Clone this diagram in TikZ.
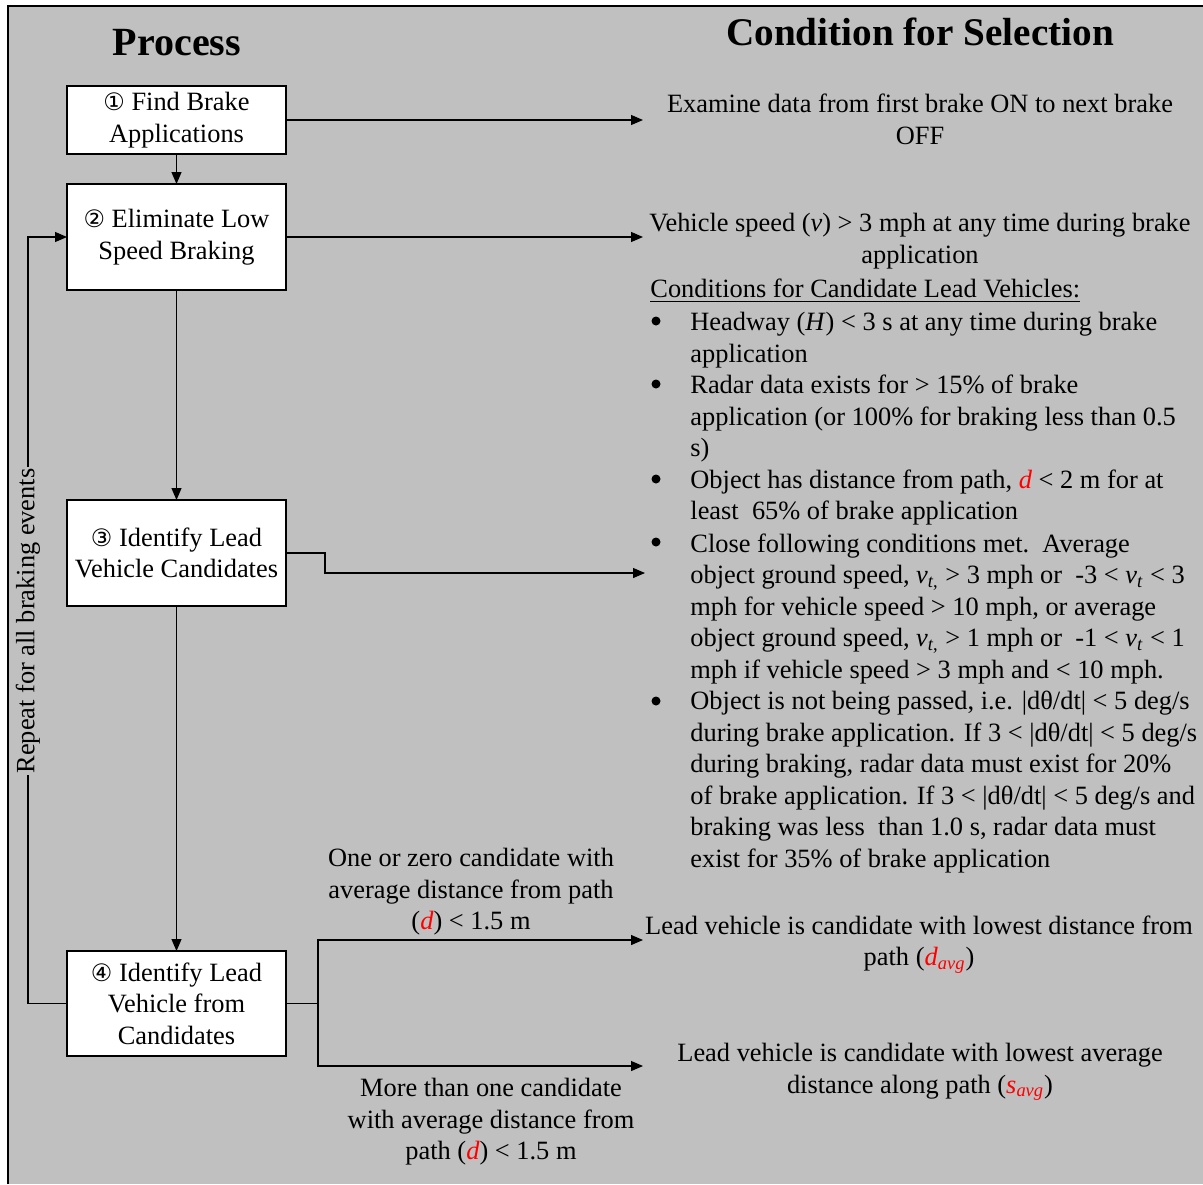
\documentclass[tikz,border=0pt]{standalone}
\usepackage{fontspec}
\setmainfont{Liberation Serif}
\newfontfamily\circfont{DejaVu Sans}
\usepackage{xcolor}
\usetikzlibrary{positioning}
\usetikzlibrary{arrows.meta}
\definecolor{panel}{RGB}{192,192,192}
\newcommand{\cnum}[1]{\smash{\circfont\fontsize{12}{12}\selectfont #1}}
\newcommand{\rd}[1]{\textcolor{red}{\textit{#1}}}
\newcommand{\rdsub}[2]{\textcolor{red}{\textit{#1}\textsubscript{\textit{#2}}}}
\newcommand{\vt}{\textit{v}\textsubscript{\textit{t}}}

\begin{document}
\begin{tikzpicture}[
        x=0.5pt, y=-0.5pt,
        align=center,
        font=\fontsize{13.2}{15.75}\selectfont,
        proc/.style = {draw, fill=white, line width=0.75pt, outer sep=0pt, minimum width=109.5pt, minimum height=53pt, inner sep=2pt},
        cond/.style = {anchor=north, inner sep=0pt},
        item/.style = {anchor=north west, inner sep=0pt, align=left},
        dot/.style = {circle, fill, inner sep=0pt, minimum size=4.5pt},
        title/.style = {font=\fontsize{20}{24}\selectfont\bfseries, anchor=base},
        arr/.style = {-{Triangle[length=6pt,width=5pt]}, line width=0.6pt}
    ]

        \useasboundingbox (0,0) rectangle (1203,1184);
        \fill[panel] (8,6) rectangle (1203,1184);
        \draw[line width=1pt] (8,1184) -- (8,6) -- (1203,6);

        \node[title] (proc) at (177,55) {Process};
        \node[title, font=\fontsize{19.6}{24}\selectfont\bfseries] (sel) at (920,45) {Condition for Selection};

        \node[proc, minimum height=34pt] (find) at (176.5,120) {\cnum{①} Find Brake\\Applications};
        \node[proc] (elim) [below=15pt of find] {\cnum{②} Eliminate Low\\Speed Braking};
        \node[proc] (ident) [below=105pt of elim] {\cnum{③} Identify Lead\\Vehicle Candidates};
        \node[proc, minimum height=52.5pt] (lead) [below=172.5pt of ident] {\cnum{④} Identify Lead\\Vehicle from\\Candidates};

        \coordinate (t1) at (643,0 |- find.east);
        \coordinate (t2) at (643,0 |- elim.east);
        \coordinate (t3) at (645,573);
        \coordinate (t4) at (643,940);
        \coordinate (t5) at (643,1066);

        \node[cond] (c1) at (920,94) {Examine data from first brake ON to next brake\\OFF};
        \node[cond] (c2) at (920,213) {Vehicle speed (\textit{v}) > 3 mph at any time during brake\\application};
        \node[item] (hd) at (650,279) {\underline{Conditions for Candidate Lead Vehicles:}};

        \foreach \y [count=\i] in {321,384,479,542,701}
            \node[dot] (b\i) at (656,\y) {};

        \node[item] (h1) at (690,312) {Headway (\textit{H}) < 3 s at any time during brake\\application};
        \node[item] (h2) at (690,375) {Radar data exists for > 15\% of brake\\application (or 100\% for braking less than 0.5\\s)};
        \node[item] (h3) at (690,469) {Object has distance from path, \rd{d} < 2 m for at\\least \ 65\% of brake application};
        \node[item] (h4) at (690,533) {Close following conditions met.\ \ Average\\object ground speed, \textit{v}\textsubscript{\textit{t},} > 3 mph or \ -3 < \vt{} < 3\\mph for vehicle speed > 10 mph, or average\\object ground speed, \textit{v}\textsubscript{\textit{t},} > 1 mph or \ -1 < \vt{} < 1\\mph if vehicle speed > 3 mph and < 10 mph.};
        \node[item] (h5) at (690,691) {Object is not being passed, i.e. |dθ/dt| < 5 deg/s\\during brake application. If 3 < |dθ/dt| < 5 deg/s\\during braking, radar data must exist for 20\%\\of brake application. If 3 < |dθ/dt| < 5 deg/s and\\braking was less \ than 1.0 s, radar data must\\exist for 35\% of brake application};

        \node[cond] (l1) at (471,848) {One or zero candidate with\\average distance from path\\(\rd{d}) < 1.5 m};
        \node[cond] (c5) at (919,915) {Lead vehicle is candidate with lowest distance from\\path (\rdsub{d}{avg})};
        \node[cond] (c6) at (920,1043) {Lead vehicle is candidate with lowest average\\distance along path (\rdsub{s}{avg})};
        \node[cond] (l2) at (491,1078) {More than one candidate\\with average distance from\\path (\rd{d}) < 1.5 m};

        \draw[arr] (find) -- (elim);
        \draw[arr] (elim) -- (ident);
        \draw[arr] (ident) -- (lead);
        \draw[arr] (find) -- (t1);
        \draw[arr] (elim) -- (t2);
        \draw[arr] (ident.east) -- ++(39,0) |- (t3);
        \draw[line width=0.6pt] (lead.east) -- ++(32,0) coordinate (fork);
        \draw[arr] (fork) |- (t4);
        \draw[arr] (fork) |- (t5);
        \draw[arr] (lead.west) -- ++(-39,0) |- (elim.west);
        \node[rotate=90, fill=panel, inner sep=1pt] (rep) at (28,621) {Repeat for all braking events};

    \end{tikzpicture}
\end{document}
